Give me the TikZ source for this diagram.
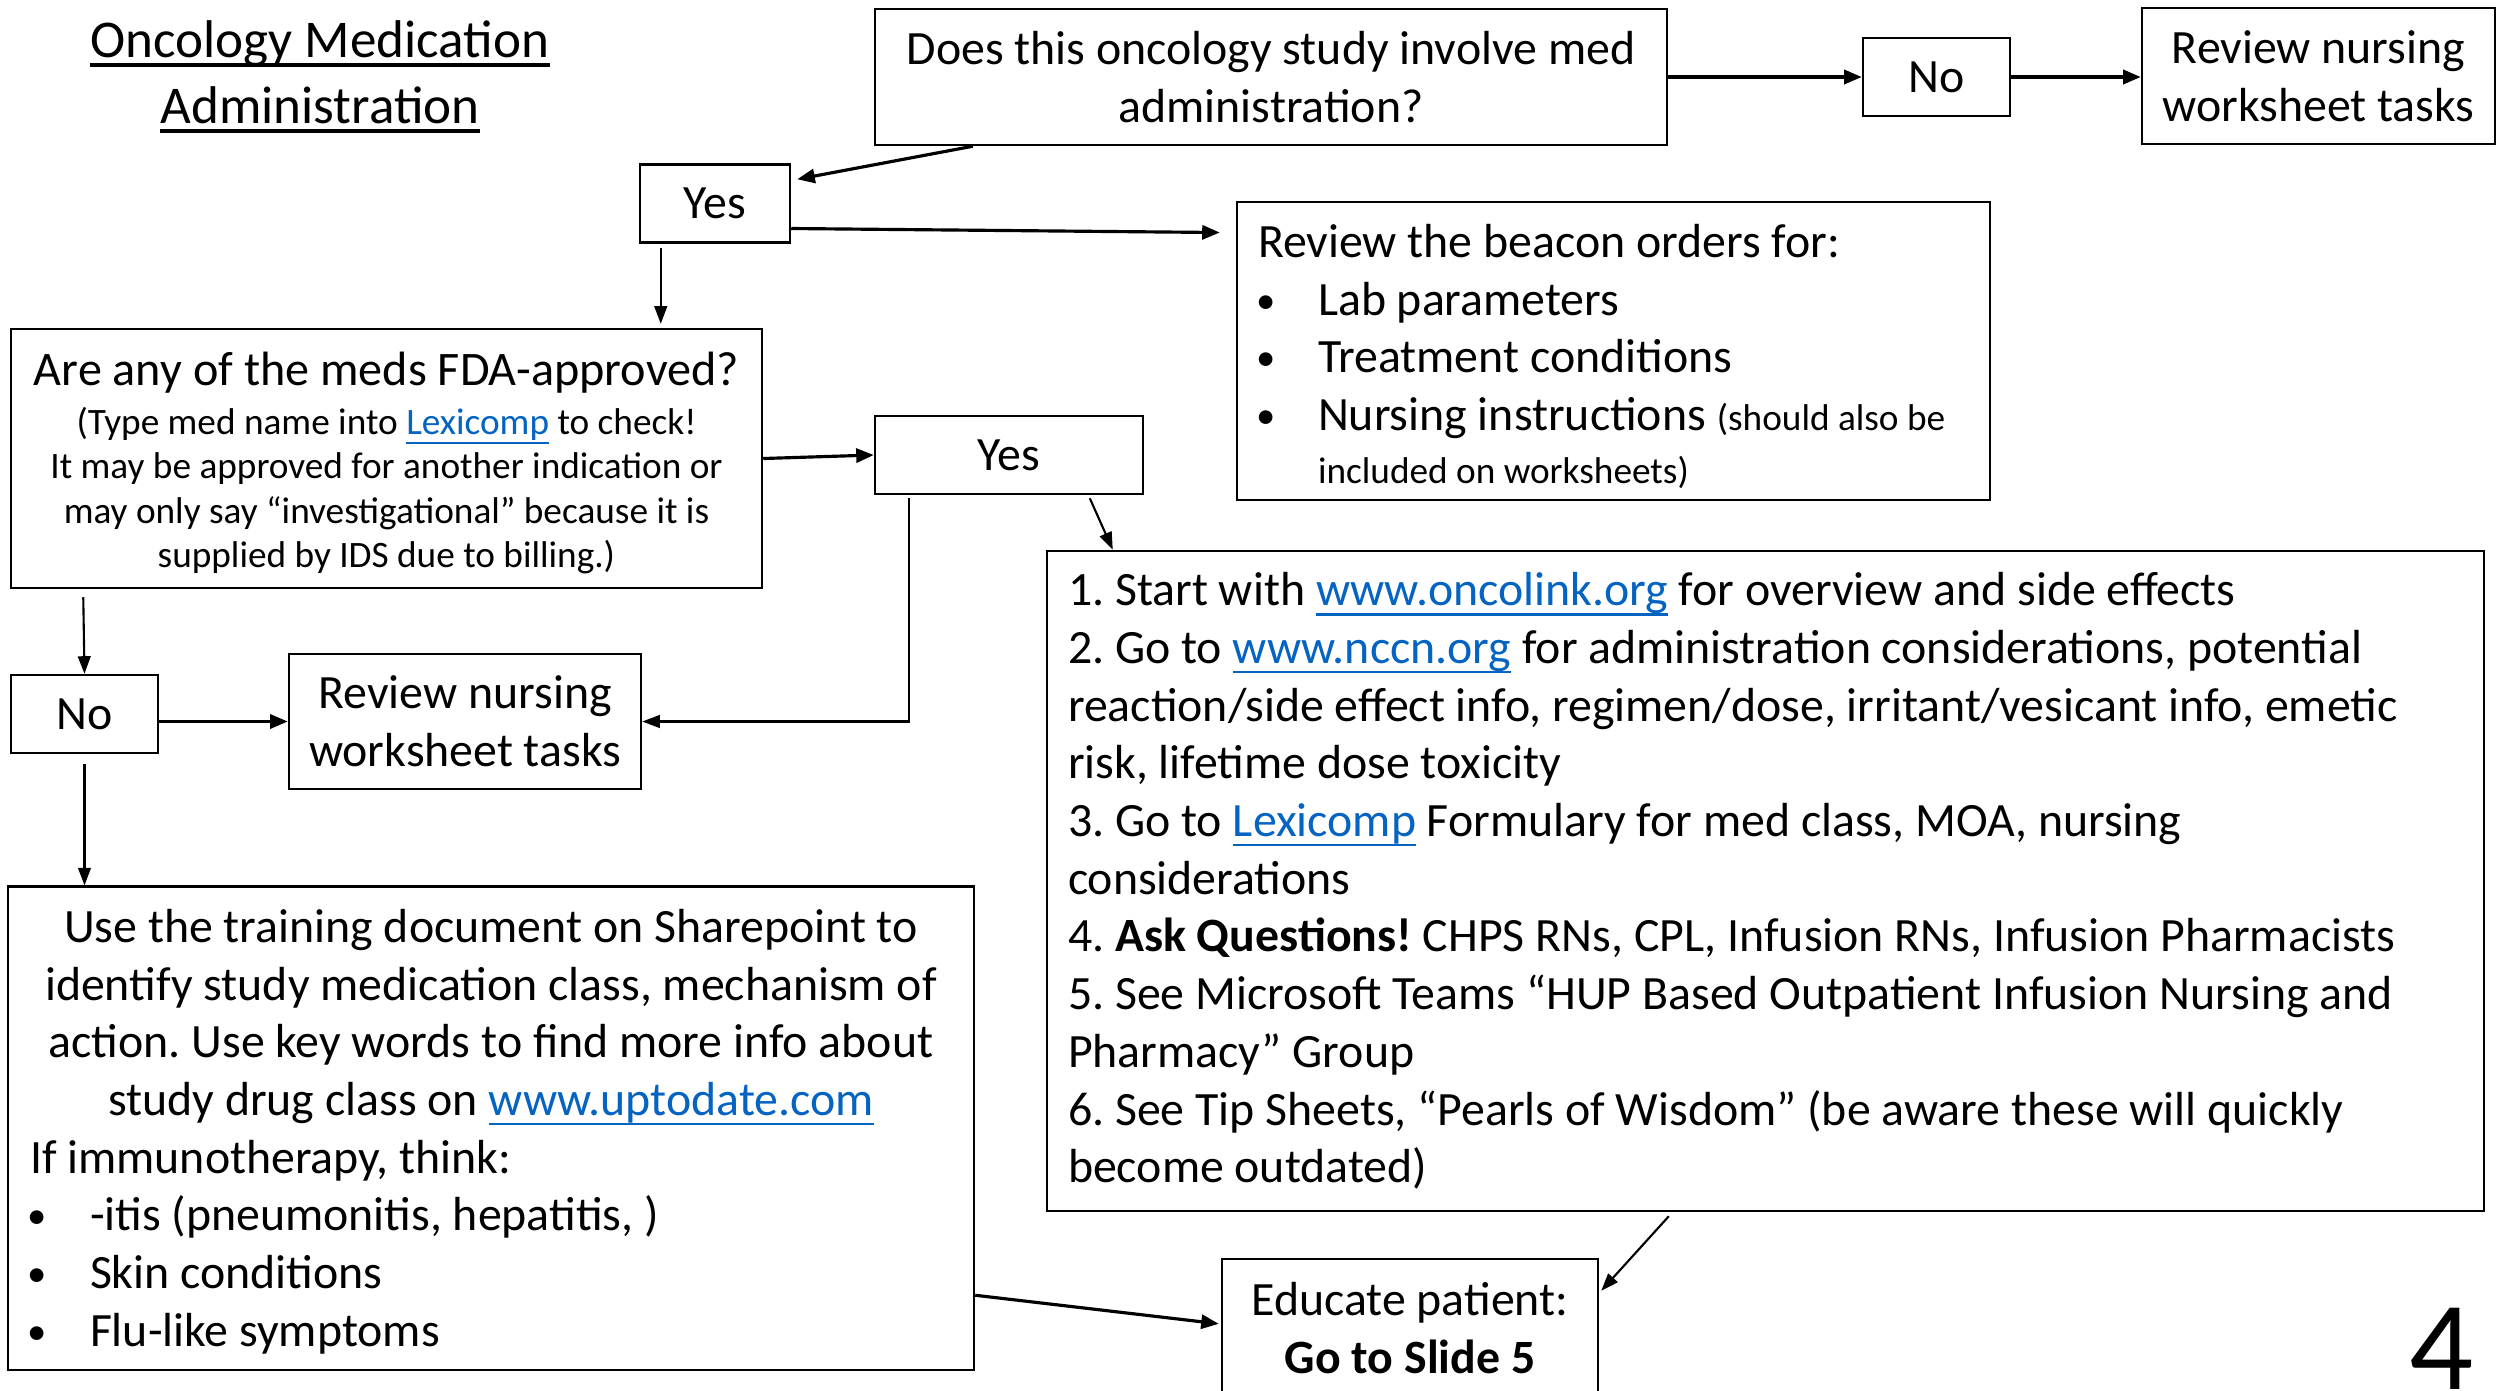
\documentclass[tikz,border=0pt]{standalone}
\usepackage{fontspec}
\setmainfont{Carlito}
\usetikzlibrary{arrows.meta,calc}
\definecolor{linkblue}{HTML}{0563C1}
\frenchspacing
\newlength\px \setlength\px{0.01cm}
\newcommand\lnk[1]{{\color{linkblue}\setbox0\hbox{#1}\rlap{\vrule height -2.1pt depth 2.8pt width \wd0}\box0}}
\newcommand\bodyfont{\fontsize{13.6pt}{16.4pt}\selectfont}
\newcommand\smallfont{\fontsize{10.6pt}{12.66pt}\selectfont}
\newcommand\bul{\hspace*{-2\px}\makebox[62\px][l]{\raisebox{0.6pt}{\fontsize{11pt}{11pt}\selectfont\textbullet}}}
\tikzset{
  box/.style={draw, line width=0.7pt, inner sep=0pt, align=flush center},
  conn/.style={line width=0.9pt, -{Triangle[length=5pt,width=4pt]}},
  connthin/.style={line width=0.6pt, -{Triangle[length=5pt,width=3.6pt]}},
}
\begin{document}
\begin{tikzpicture}[x=0.01cm, y=-0.01cm, font=\bodyfont]
\fill[white] (0,0) rectangle (2498,1390);
\useasboundingbox (0,0) rectangle (2498,1390);

% title
\node[font=\fontsize{15.1pt}{18pt}\selectfont, anchor=base, inner sep=0pt] (t1) at (320,57) {Oncology Medication};
\node[font=\fontsize{15.1pt}{18pt}\selectfont, anchor=base, inner sep=0pt] (t2) at (320,123) {Administration};
\draw[line width=1.1pt] ([yshift=-8\px]t1.base west) -- ([yshift=-8\px]t1.base east);
\draw[line width=1.1pt] ([yshift=-8\px]t2.base west) -- ([yshift=-8\px]t2.base east);

% boxes
\node[box, minimum width=792\px, minimum height=136\px, text width=760\px] (q) at (1271,77)
  {Does this oncology study involve med\\administration?};
\node[box, minimum width=147\px, minimum height=78.5\px] (no1) at (1936.5,77) {No};
\node[box, minimum width=353\px, minimum height=136\px] (rev1) at (2318.5,76) {Review nursing\\worksheet tasks};
\node[box, minimum width=150\px, minimum height=78\px] (yes1) at (715,203.5) {Yes};
\node[box, minimum width=753\px, minimum height=297.5\px, text width=711\px, align=flush left] (beacon) at (1613.5,351)
  {\rule{0pt}{44\px}Review the beacon orders for:\\
   \bul Lab parameters\\
   \bul Treatment conditions\\
   \bul Nursing instructions {\smallfont(should also be}\\[-5\px]
   \hspace*{60\px}{\smallfont included on worksheets)}};
\node[box, minimum width=751\px, minimum height=259\px, text width=730\px] (fda) at (386.5,458.5)
  {{\fontsize{13.7pt}{16.4pt}\selectfont\rule{0pt}{43\px}Are any of the meds FDA-approved?}\\[4\px]
   {\smallfont (Type med name into \lnk{Lexicomp} to check!\\
   It may be approved for another indication or\\
   may only say “investigational” because it is\\
   supplied by IDS due to billing.)\par}};
\node[box, minimum width=268\px, minimum height=78\px] (yes2) at (1009,455) {Yes};
\node[box, minimum width=147\px, minimum height=78\px] (no2) at (84.5,714) {No};
\node[box, minimum width=352\px, minimum height=135\px] (rev2) at (465,721.5) {Review nursing\\worksheet tasks};
\node[box, minimum width=966\px, minimum height=483.4\px, text width=922\px, align=flush left] (train) at (491,1128.3)
  {\makebox[\linewidth]{\rule{0pt}{40\px}Use the training document on Sharepoint to}\\
   \makebox[\linewidth]{identify study medication class, mechanism of}\\
   \makebox[\linewidth]{action. Use key words to find more info about}\\
   \makebox[\linewidth]{study drug class on \lnk{www.uptodate.com}}\\
   If immunotherapy, think:\\
   \bul -itis (pneumonitis, hepatitis, )\\
   \bul Skin conditions\\
   \bul Flu-like symptoms};
\node[box, minimum width=1437\px, minimum height=660\px, text width=1395\px, align=flush left] (steps) at (1765.5,881)
  {1. Start with \lnk{www.oncolink.org} for overview and side effects\\
   2. Go to \lnk{www.nccn.org} for administration considerations, potential\\
   reaction/side effect info, regimen/dose, irritant/vesicant info, emetic\\
   risk, lifetime dose toxicity\\
   3. Go to \lnk{Lexicomp} Formulary for med class, MOA, nursing\\
   considerations\\
   4. \textbf{Ask Questions!} CHPS RNs, CPL, Infusion RNs, Infusion Pharmacists\\
   5. See Microsoft Teams “HUP Based Outpatient Infusion Nursing and\\
   Pharmacy” Group\\
   6. See Tip Sheets, “Pearls of Wisdom” (be aware these will quickly\\
   become outdated)};
\node[box, minimum width=376\px, minimum height=138\px] (edu) at (1410,1328) {Educate patient:\\\textbf{Go to Slide 5}};
\node[font=\fontsize{36pt}{40pt}\selectfont, anchor=base, inner sep=0pt] (pg) at (2442,1389) {4};

% connectors
\draw[conn] ([xshift=99\px]q.south west) -- ([xshift=6\px,yshift=-16\px]yes1.north east);
\draw[conn] (q.east) -- (no1.west);
\draw[conn] (no1.east) -- (no1.east -| rev1.west);
\draw[conn] ([yshift=-25\px]yes1.east) -- ([xshift=-16\px,yshift=-31.5\px]beacon.north west);
\draw[connthin] ([xshift=22\px,yshift=-4\px]yes1.south west) -- ([xshift=651\px,yshift=4\px]fda.north west);
\draw[conn] (fda.east) -- (yes2.west);
\draw[connthin] ([xshift=216\px,yshift=-3\px]yes2.south west) -- ([xshift=67\px]steps.north west);
\draw[connthin] ([xshift=35\px,yshift=-3\px]yes2.south west) |- (rev2.east);
\draw[connthin] ([xshift=73.5\px,yshift=-8\px]fda.south west) -- (no2.north);
\draw[conn] (no2.east |- rev2.west) -- (rev2.west);
\draw[connthin] ([yshift=-10\px]no2.south) -- (no2.south |- train.north);
\draw[conn] ([yshift=76\px]train.south east) -- ([xshift=-2\px,yshift=-66\px]edu.north west);
\draw[connthin] ([xshift=623\px,yshift=-4\px]steps.south west) -- ([xshift=2\px,yshift=-33\px]edu.north east);
\end{tikzpicture}
\end{document}
